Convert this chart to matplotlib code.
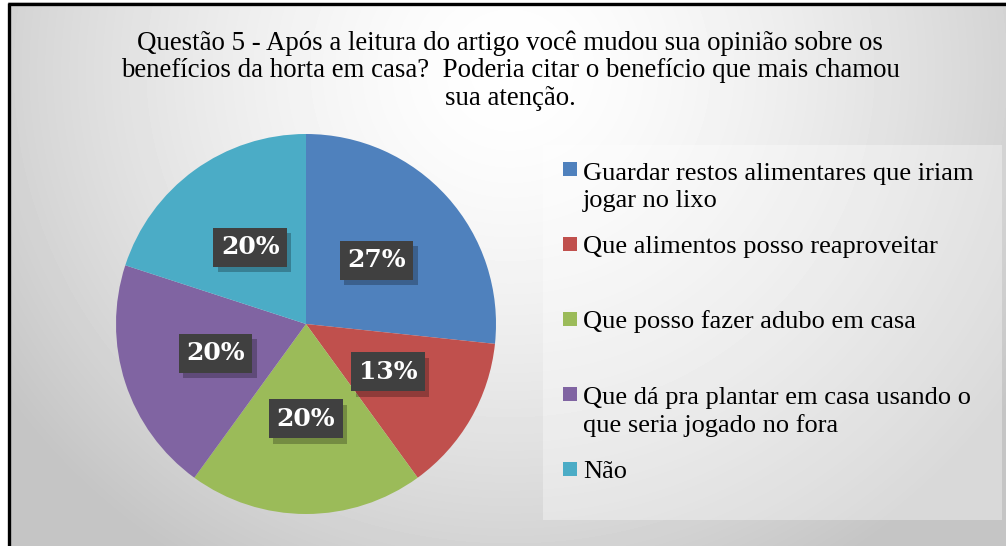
import numpy as np
import matplotlib
matplotlib.use("Agg")
import matplotlib.pyplot as plt
import matplotlib.patheffects as pe
from matplotlib.patches import Rectangle

titulo = ("Questão 5 - Após a leitura do artigo você mudou sua opinião sobre os\n"
          "benefícios da horta em casa?  Poderia citar o benefício que mais chamou\n"
          "sua atenção.")
categorias = [
    "Guardar restos alimentares que iriam\njogar no lixo",
    "Que alimentos posso reaproveitar",
    "Que posso fazer adubo em casa",
    "Que dá pra plantar em casa usando o\nque seria jogado no fora",
    "Não",
]
respostas = [4, 2, 3, 3, 3]
cores = ["#4f81bd", "#c0504d", "#9bbb59", "#8064a2", "#4bacc6"]

W, H = 1006, 546
fig = plt.figure(figsize=(W / 100, H / 100), dpi=100)
fig.patch.set_facecolor("white")

# fundo com gradiente radial
bg = fig.add_axes([0, 0, 1, 1], zorder=-10)
yy, xx = np.mgrid[0:H, 0:W]
d = np.hypot(xx - 510, (yy - 70) * 1.05)
v = 1 - 0.18 * (d / 520) ** 1.5
v = np.clip(v, 0.77, 1.0)
bg.imshow(v, cmap="gray", vmin=0, vmax=1, extent=(0, W, H, 0), aspect="auto")
bg.set_xlim(0, W)
bg.set_ylim(H, 0)
bg.axis("off")
# moldura
bg.add_patch(Rectangle((0, 0), W, 2, color="white", lw=0))
bg.add_patch(Rectangle((0, 0), 8, H, color="white", lw=0))
bg.plot([8, W], [3.5, 3.5], color="black", lw=2.4, solid_capstyle="butt")
bg.plot([9.5, 9.5], [2.5, H], color="black", lw=2.4, solid_capstyle="butt")
# caixa da legenda
bg.add_patch(Rectangle((543, 145), 459, 375, facecolor="white", alpha=0.35, lw=0))

# va="baseline" usa a ultima linha
bg.text(510, 105, titulo, ha="center", va="baseline", multialignment="center",
        family="Liberation Serif", fontsize=19.4, linespacing=1.14)

# pizza
r = 190
ax = fig.add_axes([(306 - r) / W, (H - 324 - r) / H, 2 * r / W, 2 * r / H])
wedges, textos, pcts = ax.pie(
    respostas, colors=cores, startangle=90, counterclock=False,
    autopct="%.0f%%", pctdistance=0.5, radius=1,
    wedgeprops=dict(linewidth=0),
)
ax.set_xlim(-1, 1)
ax.set_ylim(-1, 1)
ax.axis("off")
for t in pcts:
    t.set_family("DejaVu Serif")
    t.set_weight("bold")
    t.set_fontsize(18)
    t.set_color("white")
    t.set_zorder(4)
    t.set_bbox(dict(boxstyle="square,pad=0.3", facecolor="#404040", lw=0))
    t.get_bbox_patch().set_path_effects([
        pe.SimplePatchShadow(offset=(3, -4), shadow_rgbFace="black", alpha=0.25),
        pe.Normal(),
    ])

# legenda
for i, (lab, c) in enumerate(zip(categorias, cores)):
    yb = 178 + 75 * i
    n = lab.count("\n")
    bg.add_patch(Rectangle((563, yb - 16), 14, 14, facecolor=c, lw=0))
    bg.text(583, yb + 29 * n, lab, ha="left", va="baseline",
            family="Liberation Serif", fontsize=19, linespacing=1.3)

fig.savefig("out.png", dpi=100)
